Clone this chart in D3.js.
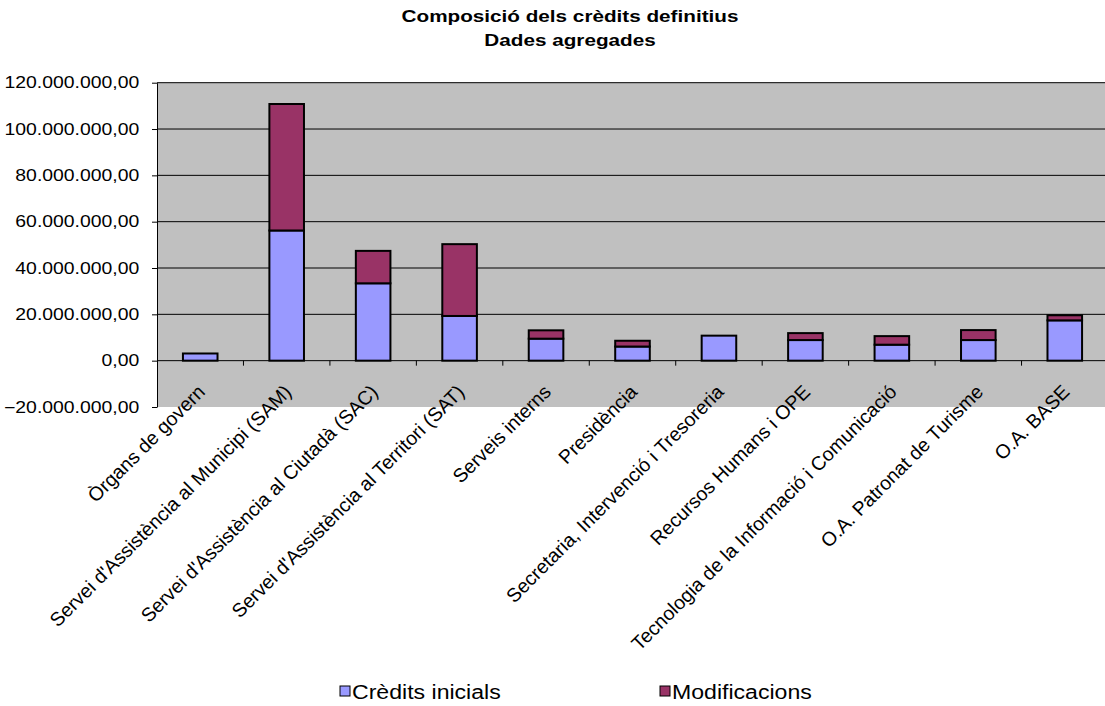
<!DOCTYPE html>
<html>
<head>
<meta charset="utf-8">
<script src="https://cdn.jsdelivr.net/npm/d3@7"></script>
<style>
  body { margin: 0; background: #fff; }
  svg { display: block; font-family: "Liberation Sans", Arial, sans-serif; }
</style>
</head>
<body>
<svg width="1105" height="706"></svg>
<script>
// data
var categories = [
  "Òrgans de govern",
  "Servei d'Assistència al Municipi (SAM)",
  "Servei d'Assistència al Ciutadà (SAC)",
  "Servei d'Assistència al Territori (SAT)",
  "Serveis interns",
  "Presidència",
  "Secretaria, Intervenció i Tresoreria",
  "Recursos Humans i OPE",
  "Tecnologia de la Informació i Comunicació",
  "O.A. Patronat de Turisme",
  "O.A. BASE"
];
var creditsInicials = [3100000, 56200000, 33400000, 19300000, 9500000, 6100000, 10800000, 8900000, 6900000, 8900000, 17400000];
var modificacions  = [0, 54600000, 14000000, 31000000, 3600000, 2500000, 0, 3000000, 3700000, 4300000, 2200000];
var seriesNames = ["Crèdits inicials", "Modificacions"];
var seriesColors = ["#9999FF", "#993366"];
var yTicks = [-20000000, 0, 20000000, 40000000, 60000000, 80000000, 100000000, 120000000];

var svg = d3.select("svg");
var stretch = 1.19; // picture is wider than tall

var plot = { left: 157, right: 1108, top: 82.7, bottom: 407 };

var x = d3.scaleBand()
  .domain(categories)
  .range([plot.left, plot.right])
  .paddingInner(0.6)
  .paddingOuter(0.3);

var y = d3.scaleLinear()
  .domain([-20000000, 120000000])
  .range([plot.bottom, plot.top]);

var locale = d3.formatLocale({ decimal: ",", thousands: ".", grouping: [3], currency: ["", ""] });
var fmt = locale.format(",.2f");

// title
var title = svg.append("g").attr("font-weight", "bold").attr("font-size", 17.4);
title.append("text")
  .attr("transform", "translate(570,22) scale(" + stretch + ",1)")
  .attr("text-anchor", "middle")
  .text("Composició dels crèdits definitius");
title.append("text")
  .attr("transform", "translate(570,46) scale(" + stretch + ",1)")
  .attr("text-anchor", "middle")
  .text("Dades agregades");

// plot background
svg.append("rect")
  .attr("x", plot.left).attr("y", plot.top)
  .attr("width", plot.right - plot.left).attr("height", plot.bottom - plot.top)
  .attr("fill", "#C0C0C0");

// gridlines
svg.append("g")
  .selectAll("line")
  .data(yTicks.filter(function(d) { return d > 0; }))
  .enter().append("line")
  .attr("x1", plot.left).attr("x2", plot.right)
  .attr("y1", function(d) { return y(d); })
  .attr("y2", function(d) { return y(d); })
  .attr("stroke", "#000").attr("stroke-width", 1);

// y axis
var yAxis = svg.append("g")
  .attr("transform", "translate(" + plot.left + ",0)")
  .call(d3.axisLeft(y).tickValues(yTicks).tickFormat(fmt).tickSize(5).tickSizeOuter(0));
yAxis.select(".domain").attr("stroke", "#000");
yAxis.selectAll(".tick line").attr("stroke", "#000");
yAxis.selectAll(".tick text")
  .attr("x", null)
  .attr("transform", "translate(-17.7,0) scale(" + stretch + ",1)")
  .attr("font-size", 16.3)
  .attr("fill", "#000")
  .attr("font-family", null);

// stacked bars
var rows = categories.map(function(c, i) {
  return { cat: c, credits: creditsInicials[i], mods: modificacions[i] };
});
var stack = d3.stack().keys(["credits", "mods"]);
var layers = stack(rows);

svg.append("g")
  .selectAll("g")
  .data(layers)
  .enter().append("g")
  .attr("fill", function(d, i) { return seriesColors[i]; })
  .selectAll("rect")
  .data(function(d) { return d; })
  .enter().append("rect")
  .filter(function(d) { return d[1] - d[0] > 0; })
  .attr("x", function(d) { return x(d.data.cat); })
  .attr("width", x.bandwidth())
  .attr("y", function(d) { return y(d[1]); })
  .attr("height", function(d) { return y(d[0]) - y(d[1]); })
  .attr("stroke", "#000")
  .attr("stroke-width", 2);

// category axis at zero
var xAxis = svg.append("g");
xAxis.append("line")
  .attr("x1", plot.left).attr("x2", plot.right)
  .attr("y1", y(0)).attr("y2", y(0))
  .attr("stroke", "#000");
var half = x.step() * x.paddingOuter();
xAxis.selectAll("line.tick")
  .data(categories.slice(0, -1))
  .enter().append("line")
  .attr("class", "tick")
  .attr("x1", function(d) { return x(d) + x.bandwidth() + half; })
  .attr("x2", function(d) { return x(d) + x.bandwidth() + half; })
  .attr("y1", y(0)).attr("y2", y(0) + 5)
  .attr("stroke", "#000");

xAxis.selectAll("text")
  .data(categories)
  .enter().append("text")
  .attr("text-anchor", "end")
  .attr("font-size", 19.5)
  .attr("transform", function(d) {
    return "translate(" + (x(d) + x.bandwidth() / 2 + 6) + "," + (y(0) + 32.5) + ") rotate(-45)";
  })
  .text(function(d) { return d; });

// legend
var legend = svg.append("g");
var legendX = [340, 660];
seriesNames.forEach(function(name, i) {
  legend.append("rect")
    .attr("x", legendX[i]).attr("y", 686)
    .attr("width", 10).attr("height", 10)
    .attr("fill", seriesColors[i])
    .attr("stroke", "#000").attr("stroke-width", 1);
  legend.append("text")
    .attr("transform", "translate(" + (legendX[i] + 12) + ",699) scale(" + stretch + ",1)")
    .attr("font-size", 19.4)
    .text(name);
});
</script>
</body>
</html>
